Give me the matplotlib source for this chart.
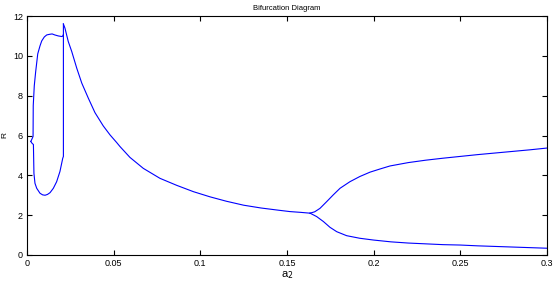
import matplotlib
matplotlib.use('Agg')
import matplotlib.pyplot as plt

# bifurcation diagram, values
upper_loop_a = [0.0022, 0.0030, 0.0035, 0.0036, 0.0042, 0.0050, 0.0062, 0.0075, 0.0085, 0.0100,
                0.0114, 0.0130, 0.0145, 0.0160, 0.0180, 0.0200, 0.0205, 0.0209]
upper_loop_R = [5.7, 5.85, 5.95, 7.5, 8.5, 9.2, 10.1, 10.5, 10.75, 10.95,
                11.05, 11.08, 11.1, 11.05, 11.0, 10.97, 10.98, 11.05]

lower_loop_a = [0.0022, 0.0030, 0.0037, 0.0040, 0.0046, 0.0056, 0.0075, 0.0090, 0.0104, 0.0118,
                0.0133, 0.0152, 0.0171, 0.0190, 0.0200, 0.0206, 0.0210, 0.0210]
lower_loop_R = [5.7, 5.6, 5.55, 4.1, 3.6, 3.35, 3.1, 3.02, 3.0, 3.04,
                3.13, 3.35, 3.68, 4.19, 4.6, 4.85, 4.95, 11.6]

decay_a = [0.0210, 0.0219, 0.0238, 0.0258, 0.0287, 0.0316, 0.0354, 0.0392, 0.0440, 0.0479,
           0.0517, 0.0537, 0.0594, 0.0671, 0.0767, 0.0863, 0.0960, 0.1056, 0.1150, 0.1250,
           0.1350, 0.1450, 0.1517, 0.1580, 0.1633]
decay_R = [11.6, 11.39, 10.72, 10.22, 9.38, 8.63, 7.87, 7.15, 6.48, 6.03,
           5.65, 5.44, 4.9, 4.35, 3.85, 3.5, 3.18, 2.92, 2.7, 2.5,
           2.36, 2.25, 2.18, 2.14, 2.1]

upper_a = [0.1633, 0.1660, 0.1690, 0.1729, 0.1767, 0.1806, 0.1863, 0.1920, 0.1979, 0.2037,
           0.2094, 0.2200, 0.2300, 0.2400, 0.2500, 0.2600, 0.2700, 0.2800, 0.2900, 0.3000]
upper_R = [2.1, 2.17, 2.34, 2.68, 3.02, 3.35, 3.68, 3.94, 4.16, 4.32,
           4.47, 4.64, 4.76, 4.86, 4.95, 5.04, 5.12, 5.2, 5.28, 5.37]

lower_a = [0.1633, 0.1671, 0.1710, 0.1748, 0.1787, 0.1844, 0.1920, 0.2000, 0.2100, 0.2200,
           0.2300, 0.2400, 0.2500, 0.2600, 0.2700, 0.2800, 0.2900, 0.3000]
lower_R = [2.1, 1.93, 1.68, 1.39, 1.17, 0.97, 0.84, 0.75, 0.66, 0.6,
           0.56, 0.52, 0.5, 0.46, 0.43, 0.4, 0.37, 0.34]

x_ticks = [0, 0.05, 0.1, 0.15, 0.2, 0.25, 0.3]
x_labels = ['0', '0.05', '0.1', '0.15', '0.2', '0.25', '0.3']
y_ticks = [0, 2, 4, 6, 8, 10, 12]

plt.rcParams['font.family'] = ['Liberation Sans', 'DejaVu Sans']

fig = plt.figure(figsize=(5.59, 2.84), dpi=100)
ax = fig.add_axes([27/559, 1 - 255/284, 520/559, 239/284])

for a, r in [(upper_loop_a, upper_loop_R), (lower_loop_a, lower_loop_R),
             (decay_a, decay_R), (upper_a, upper_R), (lower_a, lower_R)]:
    ax.plot(a, r, color='#0000ff', linewidth=0.8)

ax.set_xlim(0, 0.3)
ax.set_ylim(0, 12)
ax.set_xticks(x_ticks)
ax.set_xticklabels(x_labels)
ax.set_yticks(y_ticks)
ax.tick_params(direction='in', top=True, right=True, length=3.5, width=0.8,
               labelsize=6.5, pad=3)
for s in ax.spines.values():
    s.set_linewidth(0.8)

ax.set_title('Bifurcation Diagram', fontsize=5.5, pad=4)
ax.set_xlabel('a$_2$', fontsize=8, labelpad=1)
ax.set_ylabel('R', fontsize=6, labelpad=3)

fig.savefig('out.png', dpi=100)
